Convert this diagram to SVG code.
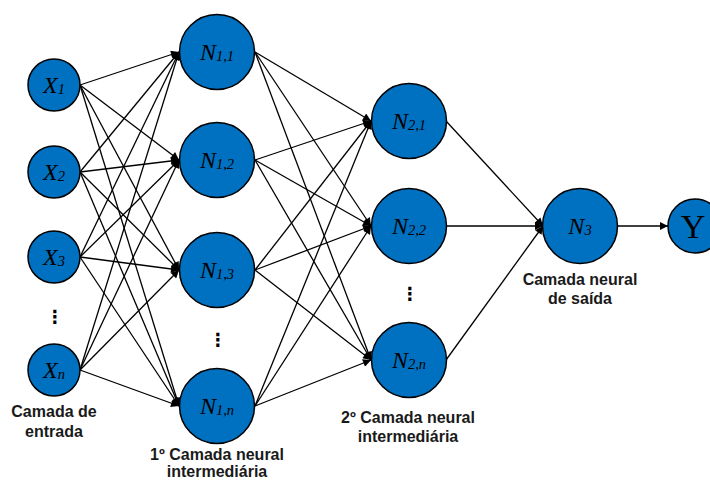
<svg xmlns="http://www.w3.org/2000/svg" width="710" height="480" viewBox="0 0 710 480">
  <style>
    .node { fill: #0070C0; stroke: #000; stroke-width: 1.5; }
    .lbl { font-family: "Liberation Serif", "Times New Roman", serif; font-style: italic; font-size: 24px; fill: #000; text-anchor: middle; }
    .sub { font-size: 14.5px; }
    .cap { font-family: "Liberation Sans", Arial, sans-serif; font-weight: bold; font-size: 16px; fill: #1a1a1a; text-anchor: middle; }
    .dots { font-family: "DejaVu Sans", sans-serif; font-weight: bold; font-size: 18px; fill: #000; text-anchor: middle; }
    .edges line { stroke: #000; stroke-width: 1.3; marker-end: url(#arrow); }
  </style>
  <defs>
    <marker id="arrow" viewBox="0 0 10 10" refX="10" refY="5" markerWidth="10" markerHeight="8" markerUnits="userSpaceOnUse" orient="auto">
      <path d="M0,0 L10,5 L0,10 Z" fill="#000"/>
    </marker>
  </defs>

  <rect width="710" height="480" fill="#fff"/>

  <!-- connectors -->
  <g id="edges" class="edges">
    <!-- input layer to first hidden layer -->
    <line x1="80" y1="85" x2="179" y2="52"/>
    <line x1="80" y1="85" x2="179" y2="160"/>
    <line x1="80" y1="85" x2="179" y2="270"/>
    <line x1="80" y1="85" x2="179" y2="406"/>
    <line x1="80" y1="172" x2="179" y2="52"/>
    <line x1="80" y1="172" x2="179" y2="160"/>
    <line x1="80" y1="172" x2="179" y2="270"/>
    <line x1="80" y1="172" x2="179" y2="406"/>
    <line x1="80" y1="257" x2="179" y2="52"/>
    <line x1="80" y1="257" x2="179" y2="160"/>
    <line x1="80" y1="257" x2="179" y2="270"/>
    <line x1="80" y1="257" x2="179" y2="406"/>
    <line x1="80" y1="370" x2="179" y2="52"/>
    <line x1="80" y1="370" x2="179" y2="160"/>
    <line x1="80" y1="370" x2="179" y2="270"/>
    <line x1="80" y1="370" x2="179" y2="406"/>
    <!-- first hidden layer to second hidden layer -->
    <line x1="255" y1="52" x2="371" y2="121"/>
    <line x1="255" y1="52" x2="371" y2="226"/>
    <line x1="255" y1="52" x2="371" y2="360"/>
    <line x1="255" y1="160" x2="371" y2="121"/>
    <line x1="255" y1="160" x2="371" y2="226"/>
    <line x1="255" y1="160" x2="371" y2="360"/>
    <line x1="255" y1="270" x2="371" y2="121"/>
    <line x1="255" y1="270" x2="371" y2="226"/>
    <line x1="255" y1="270" x2="371" y2="360"/>
    <line x1="255" y1="406" x2="371" y2="121"/>
    <line x1="255" y1="406" x2="371" y2="226"/>
    <line x1="255" y1="406" x2="371" y2="360"/>
    <!-- second hidden layer to output -->
    <line x1="446" y1="121" x2="543" y2="226"/>
    <line x1="446" y1="226" x2="543" y2="226"/>
    <line x1="446" y1="360" x2="543" y2="226"/>
    <!-- output to Y -->
    <line x1="617" y1="226" x2="668" y2="226"/>
  </g>

  <!-- input layer -->
  <g id="x1"><circle class="node" cx="54" cy="85" r="26"/><text class="lbl" x="54" y="93">X<tspan class="sub" dy="1">1</tspan></text></g>
  <g id="x2"><circle class="node" cx="54" cy="172" r="26"/><text class="lbl" x="54" y="180">X<tspan class="sub" dy="1">2</tspan></text></g>
  <g id="x3"><circle class="node" cx="54" cy="257" r="26"/><text class="lbl" x="54" y="265">X<tspan class="sub" dy="1">3</tspan></text></g>
  <g id="xn"><circle class="node" cx="54" cy="370" r="26"/><text class="lbl" x="54" y="378">X<tspan class="sub" dy="1">n</tspan></text></g>
  <text class="dots" x="55" y="323">⋮</text>

  <!-- first hidden layer -->
  <g id="n11"><circle class="node" cx="217" cy="52" r="37.5"/><text class="lbl" x="217" y="60">N<tspan class="sub" dy="1">1,1</tspan></text></g>
  <g id="n12"><circle class="node" cx="217" cy="160" r="37.5"/><text class="lbl" x="217" y="168">N<tspan class="sub" dy="1">1,2</tspan></text></g>
  <g id="n13"><circle class="node" cx="217" cy="270" r="37.5"/><text class="lbl" x="217" y="278">N<tspan class="sub" dy="1">1,3</tspan></text></g>
  <g id="n1n"><circle class="node" cx="217" cy="406" r="37.5"/><text class="lbl" x="217" y="414">N<tspan class="sub" dy="1">1,n</tspan></text></g>
  <text class="dots" x="218" y="346">⋮</text>

  <!-- second hidden layer -->
  <g id="n21"><circle class="node" cx="409" cy="121" r="37.5"/><text class="lbl" x="409" y="129">N<tspan class="sub" dy="1">2,1</tspan></text></g>
  <g id="n22"><circle class="node" cx="409" cy="226" r="37.5"/><text class="lbl" x="409" y="234">N<tspan class="sub" dy="1">2,2</tspan></text></g>
  <g id="n2n"><circle class="node" cx="409" cy="360" r="37.5"/><text class="lbl" x="409" y="368">N<tspan class="sub" dy="1">2,n</tspan></text></g>
  <text class="dots" x="410" y="300">⋮</text>

  <!-- output layer -->
  <g id="n3"><circle class="node" cx="580" cy="226" r="37.5"/><text class="lbl" x="580" y="234">N<tspan class="sub" dy="1">3</tspan></text></g>
  <g id="y"><circle class="node" cx="695" cy="226" r="27"/><text x="693" y="238" font-family="Liberation Serif, Times New Roman, serif" font-size="34" text-anchor="middle" fill="#000">Y</text></g>

  <!-- layer captions -->
  <text class="cap" x="54" y="417">Camada de</text>
  <text class="cap" x="54" y="437">entrada</text>
  <text class="cap" x="217" y="460">1º Camada neural</text>
  <text class="cap" x="217" y="477">intermediária</text>
  <text class="cap" x="408" y="423">2º Camada neural</text>
  <text class="cap" x="408" y="442">intermediária</text>
  <text class="cap" x="580" y="285">Camada neural</text>
  <text class="cap" x="580" y="304">de saída</text>
</svg>
